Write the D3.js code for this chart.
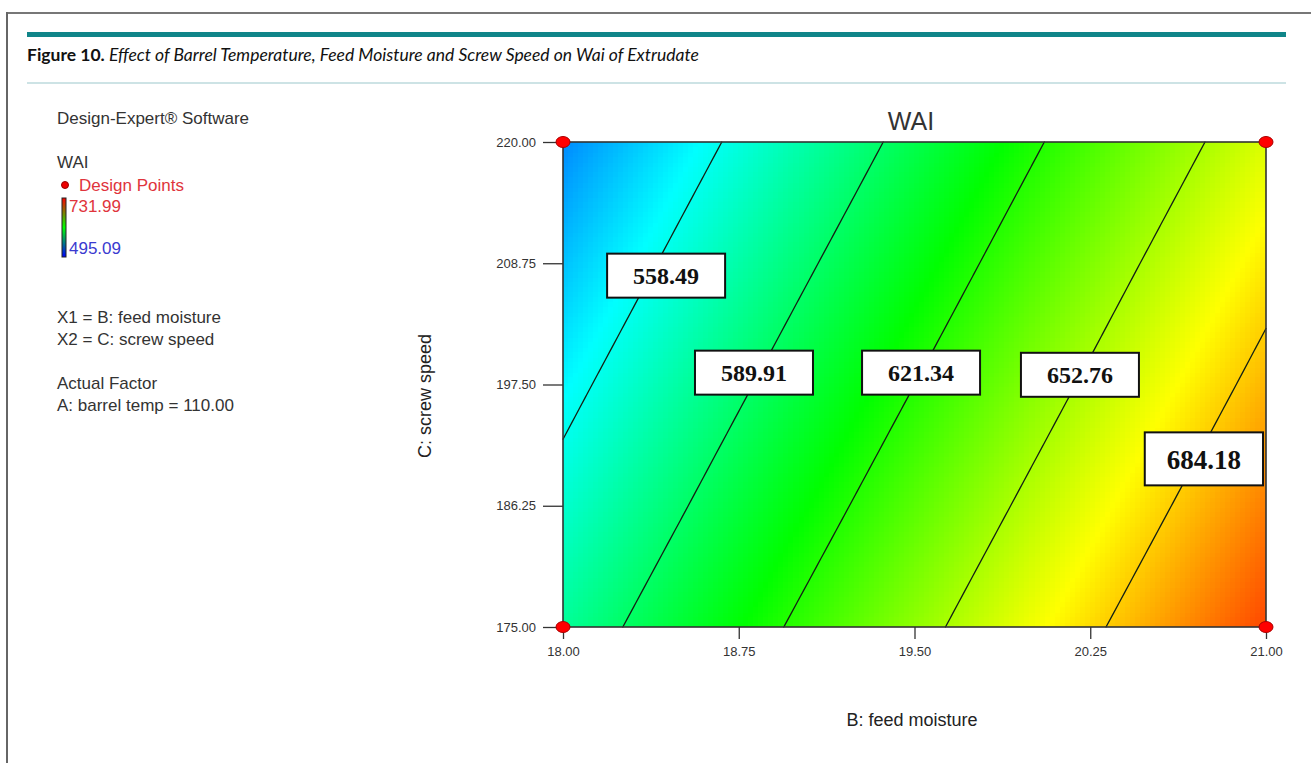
<!DOCTYPE html>
<html>
<head>
<meta charset="utf-8">
<script src="https://cdn.jsdelivr.net/npm/d3@7"></script>
<style>
  html, body { margin: 0; padding: 0; background: #fff; }
  svg { display: block; }
</style>
</head>
<body>
<svg id="chart" width="1311" height="763"></svg>
<script>
// ---------------- data ----------------
const feedMoisture = [18.00, 18.75, 19.50, 20.25, 21.00];      // B (x axis)
const screwSpeed   = [175.00, 186.25, 197.50, 208.75, 220.00]; // C (y axis)
// WAI estimated at the grid nodes (one row per screw speed, columns follow feedMoisture)
const wai175 = [578.2, 612.6, 646.7, 681.1, 715.4];
const wai186 = [565.4, 599.8, 634.0, 668.3, 702.7];
const wai197 = [552.8, 587.1, 621.3, 655.6, 690.0];
const wai208 = [540.1, 574.5, 608.6, 643.0, 677.4];
const wai220 = [527.5, 561.8, 596.0, 630.3, 664.7];
const contourLevels = [558.49, 589.91, 621.34, 652.76, 684.18];
const contourLabelB = [18.44, 18.815, 19.528, 20.206, 20.735];
const contourLabelC = [207.6, 198.6, 198.6, 198.4, 190.6];
const colorRange = [495.09, 731.99];
const designB = [18.00, 18.00, 21.00, 21.00];
const designC = [175.00, 220.00, 175.00, 220.00];
const legendLines = ["X1 = B: feed moisture", "X2 = C: screw speed"];
const factorLines = ["Actual Factor", "A: barrel temp = 110.00"];

// ---------------- setup ----------------
const svg = d3.select("#chart");
const L = 563, R = 1266, T = 142, B = 627;
const x = d3.scaleLinear().domain([18, 21]).range([L, R]);
const y = d3.scaleLinear().domain([175, 220]).range([B, T]);
const waiRows = [wai175, wai186, wai197, wai208, wai220];

const color = d3.scaleLinear()
  .domain(d3.range(5).map(i => colorRange[0] + (colorRange[1] - colorRange[0]) * i / 4))
  .range(["#0000ff", "#00ffff", "#00ff00", "#ffff00", "#ff0000"])
  .clamp(true);

function wai(b, c) {
  let i = Math.max(0, Math.min(feedMoisture.length - 2, d3.bisectRight(feedMoisture, b) - 1));
  let j = Math.max(0, Math.min(screwSpeed.length - 2, d3.bisectRight(screwSpeed, c) - 1));
  const tx = (b - feedMoisture[i]) / (feedMoisture[i + 1] - feedMoisture[i]);
  const ty = (c - screwSpeed[j]) / (screwSpeed[j + 1] - screwSpeed[j]);
  const v00 = waiRows[j][i], v10 = waiRows[j][i + 1], v01 = waiRows[j + 1][i], v11 = waiRows[j + 1][i + 1];
  return (1 - ty) * ((1 - tx) * v00 + tx * v10) + ty * ((1 - tx) * v01 + tx * v11);
}

// ---------------- page frame ----------------
svg.append("line").attr("x1", 7).attr("x2", 1311).attr("y1", 13).attr("y2", 13)
  .attr("stroke", "#777").attr("stroke-width", 2);
svg.append("line").attr("x1", 7).attr("x2", 7).attr("y1", 12).attr("y2", 763)
  .attr("stroke", "#666").attr("stroke-width", 2);
svg.append("rect").attr("x", 27).attr("y", 32).attr("width", 1259).attr("height", 5)
  .attr("fill", "#108589");
svg.append("line").attr("x1", 27).attr("x2", 1286).attr("y1", 83).attr("y2", 83)
  .attr("stroke", "#9cc8cc").attr("stroke-width", 1.2);

const title = svg.append("text").attr("x", 27).attr("y", 61)
  .style("font-family", "Lato, 'Open Sans', sans-serif").style("font-size", "17.5px").attr("fill", "#111");
title.append("tspan").style("font-weight", "bold").text("Figure 10.");
title.append("tspan").style("font-style", "italic")
  .text(" Effect of Barrel Temperature, Feed Moisture and Screw Speed on Wai of Extrudate");

// ---------------- legend ----------------
const lg = svg.append("g").style("font-family", "'Liberation Sans', Arial, sans-serif").style("font-size", "17px");
const lx = 57;
lg.append("text").attr("x", lx).attr("y", 124).attr("fill", "#333").text("Design-Expert\u00AE Software");
lg.append("text").attr("x", lx).attr("y", 168).attr("fill", "#333").text("WAI");
lg.append("ellipse").attr("cx", 65).attr("cy", 185).attr("rx", 3.5).attr("ry", 3.5)
  .attr("fill", "#e00").attr("stroke", "#900");
lg.append("text").attr("x", 79).attr("y", 191).attr("fill", "#e0343c").text("Design Points");
const grad = svg.append("defs").append("linearGradient").attr("id", "cbar")
  .attr("x1", 0).attr("x2", 0).attr("y1", 0).attr("y2", 1);
grad.append("stop").attr("offset", "0%").attr("stop-color", "#ff0000");
grad.append("stop").attr("offset", "50%").attr("stop-color", "#00ff00");
grad.append("stop").attr("offset", "100%").attr("stop-color", "#0000ff");
lg.append("rect").attr("x", 62).attr("y", 198).attr("width", 4).attr("height", 59)
  .attr("fill", "url(#cbar)").attr("stroke", "#222").attr("stroke-width", 1);
lg.append("text").attr("x", 69).attr("y", 212).attr("fill", "#e0343c").text(colorRange[1].toFixed(2));
lg.append("text").attr("x", 69).attr("y", 254).attr("fill", "#3a3ad0").text(colorRange[0].toFixed(2));
legendLines.forEach((t, i) => lg.append("text").attr("x", lx).attr("y", 323 + i * 22).attr("fill", "#333").text(t));
factorLines.forEach((t, i) => lg.append("text").attr("x", lx).attr("y", 389 + i * 22).attr("fill", "#333").text(t));

// ---------------- color field ----------------
const nx = 140, ny = 97;
const bStep = (21 - 18) / nx, cStep = (220 - 175) / ny;
const cells = [];
for (let i = 0; i < nx; i++) for (let j = 0; j < ny; j++) cells.push([i, j]);
svg.append("g").attr("shape-rendering", "crispEdges")
  .selectAll("rect").data(cells).join("rect")
  .attr("x", d => Math.floor(x(18 + d[0] * bStep)))
  .attr("y", d => Math.floor(y(175 + (d[1] + 1) * cStep)))
  .attr("width", d => Math.ceil(x(18 + (d[0] + 1) * bStep)) - Math.floor(x(18 + d[0] * bStep)))
  .attr("height", d => Math.ceil(y(175 + d[1] * cStep)) - Math.floor(y(175 + (d[1] + 1) * cStep)))
  .attr("fill", d => color(wai(18 + (d[0] + 0.5) * bStep, 175 + (d[1] + 0.5) * cStep)));

// ---------------- contour lines (marching squares) ----------------
const mx = 60, my = 40;
const gb = d3.range(mx + 1).map(i => 18 + 3 * i / mx);
const gc = d3.range(my + 1).map(j => 175 + 45 * j / my);
const gv = gc.map(c => gb.map(b => wai(b, c)));
const cg = svg.append("g");
contourLevels.forEach(level => {
  let path = "";
  for (let j = 0; j < my; j++) for (let i = 0; i < mx; i++) {
    const corners = [[i, j], [i + 1, j], [i + 1, j + 1], [i, j + 1]];
    const pts = [];
    for (let k = 0; k < 4; k++) {
      const p = corners[k], q = corners[(k + 1) % 4];
      const v1 = gv[p[1]][p[0]], v2 = gv[q[1]][q[0]];
      if ((v1 - level) * (v2 - level) < 0) {
        const t = (level - v1) / (v2 - v1);
        const bb = gb[p[0]] + t * (gb[q[0]] - gb[p[0]]);
        const cc = gc[p[1]] + t * (gc[q[1]] - gc[p[1]]);
        pts.push([x(bb), y(cc)]);
      }
    }
    if (pts.length === 2) path += `M${pts[0][0]},${pts[0][1]}L${pts[1][0]},${pts[1][1]}`;
  }
  cg.append("path").attr("d", path).attr("fill", "none").attr("stroke", "#142014")
    .attr("stroke-width", 1.3).attr("stroke-linecap", "round");
});

// ---------------- frame + axes ----------------
svg.append("rect").attr("x", L).attr("y", T).attr("width", R - L).attr("height", B - T)
  .attr("fill", "none").attr("stroke", "#333").attr("stroke-width", 1.6);

const fmt = d3.format(".2f");
const xa = svg.append("g").attr("transform", `translate(0,${B})`)
  .call(d3.axisBottom(x).tickValues(feedMoisture).tickFormat(fmt).tickSize(12).tickPadding(8));
const ya = svg.append("g").attr("transform", `translate(${L},0)`)
  .call(d3.axisLeft(y).tickValues(screwSpeed).tickFormat(fmt).tickSize(20).tickPadding(7));
[xa, ya].forEach(a => {
  a.select(".domain").remove();
  a.selectAll("line").attr("stroke", "#333").attr("stroke-width", 1.3);
  a.selectAll("text").attr("fill", "#333")
    .style("font-family", "'Liberation Sans', Arial, sans-serif").style("font-size", "13px");
});

svg.append("text").attr("x", 912).attr("y", 726).attr("text-anchor", "middle")
  .style("font-family", "'Liberation Sans', Arial, sans-serif").style("font-size", "18px")
  .attr("fill", "#222").text("B: feed moisture");
svg.append("text").attr("transform", "translate(431,396) rotate(-90)").attr("text-anchor", "middle")
  .style("font-family", "'Liberation Sans', Arial, sans-serif").style("font-size", "18px")
  .attr("fill", "#222").text("C: screw speed");
svg.append("text").attr("x", 911).attr("y", 130).attr("text-anchor", "middle")
  .style("font-family", "'Liberation Sans', Arial, sans-serif").style("font-size", "25px")
  .attr("fill", "#333").text("WAI");

// ---------------- design points ----------------
svg.append("g").selectAll("ellipse").data(designB).join("ellipse")
  .attr("cx", d => x(d)).attr("cy", (d, i) => y(designC[i]))
  .attr("rx", 7).attr("ry", 5.5).attr("fill", "#ff0000").attr("stroke", "#a00").attr("stroke-width", 1);

// ---------------- contour labels ----------------
const lab = svg.append("g");
contourLevels.forEach((lv, i) => {
  const fs = i === 4 ? 27 : 24;
  const cx = x(contourLabelB[i]), cy = y(contourLabelC[i]);
  const g = lab.append("g");
  const t = g.append("text").attr("x", cx).attr("y", cy + fs * 0.36).attr("text-anchor", "middle")
    .style("font-family", "'Liberation Serif', 'Times New Roman', serif")
    .style("font-size", fs + "px").style("font-weight", "bold").attr("fill", "#111")
    .text(lv.toFixed(2));
  const w = t.node().getComputedTextLength() + (i === 4 ? 44 : 52);
  const h = i === 4 ? 53 : 44;
  g.insert("rect", "text").attr("x", cx - w / 2).attr("y", cy - h / 2).attr("width", w).attr("height", h)
    .attr("fill", "#fff").attr("stroke", "#111").attr("stroke-width", 2);
});
</script>
</body>
</html>
